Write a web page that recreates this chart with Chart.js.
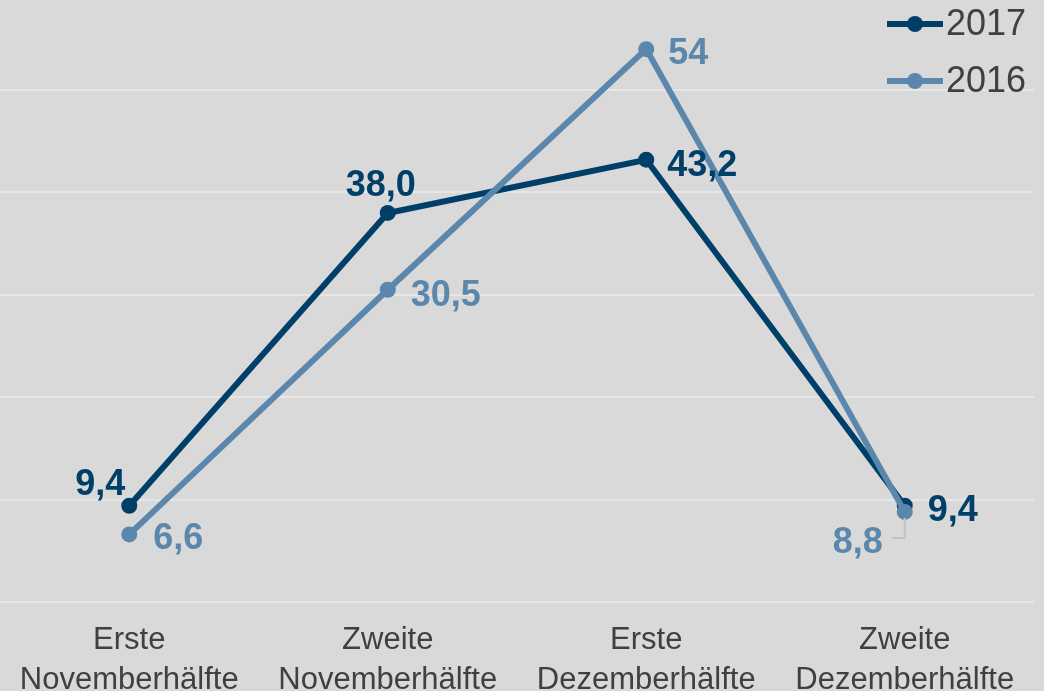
<!DOCTYPE html>
<html>
<head>
<meta charset="utf-8">
<script src="https://cdn.jsdelivr.net/npm/chart.js@4.4.1/dist/chart.umd.min.js"></script>
<style>
  html, body { margin: 0; padding: 0; background: #d9d9d9; }
  #wrap { width: 1044px; height: 691px; position: relative; }
</style>
</head>
<body>
<div id="wrap"><canvas id="grafico"></canvas></div>
<script>
// Kategorien und Werte
const kategorien = [
  ['Erste', 'Novemberhälfte'],
  ['Zweite', 'Novemberhälfte'],
  ['Erste', 'Dezemberhälfte'],
  ['Zweite', 'Dezemberhälfte']
];
const werte2017 = [9.4, 38.0, 43.2, 9.4];
const werte2016 = [6.6, 30.5, 54, 8.8];
const texte2017 = ['9,4', '38,0', '43,2', '9,4'];
const texte2016 = ['6,6', '30,5', '54', '8,8'];
const yTicks = [0, 10, 20, 30, 40, 50];

const dunkel = '#003f68';
const hell = '#5a87ab';
const schrift = '"Liberation Sans", Arial, sans-serif';

// Lage der Wertbeschriftung je Punkt: [dx, dy, Ausrichtung]
const lage2017 = [[-4, -21, 'right'], [-7, -27, 'center'], [21, 6, 'left'], [23, 5, 'left']];
const lage2016 = [[24, 5, 'left'], [23, 6, 'left'], [22, 5, 'left'], [-22, 31, 'right']];

// Wertbeschriftungen + Legende selbst zeichnen
const beschriftung = {
  id: 'beschriftung',
  afterDatasetsDraw(chart) {
    const c = chart.ctx;
    c.save();
    c.font = 'bold 36px ' + schrift;
    c.textBaseline = 'middle';
    const gruppen = [[1, texte2016, lage2016, hell], [0, texte2017, lage2017, dunkel]];
    gruppen.forEach(([idx, texte, lage, farbe]) => {
      const meta = chart.getDatasetMeta(idx);
      meta.data.forEach((pt, i) => {
        const [dx, dy, align] = lage[i];
        c.fillStyle = farbe;
        c.textAlign = align;
        c.fillText(texte[i], pt.x + dx, pt.y + dy);
      });
    });
    // Führungslinie für 8,8
    const p = chart.getDatasetMeta(1).data[3];
    c.strokeStyle = '#c2c2c2';
    c.lineWidth = 2;
    c.beginPath();
    c.moveTo(p.x, p.y + 6);
    c.lineTo(p.x, p.y + 26);
    c.lineTo(p.x - 13, p.y + 26);
    c.stroke();

    // Legende oben rechts
    c.font = '36px ' + schrift;
    c.textAlign = 'left';
    chart.data.datasets.forEach((ds, i) => {
      const y = 24 + i * 57;
      c.strokeStyle = ds.borderColor;
      c.lineWidth = 6;
      c.beginPath();
      c.moveTo(887, y);
      c.lineTo(943, y);
      c.stroke();
      c.fillStyle = ds.borderColor;
      c.beginPath();
      c.arc(915, y, 8, 0, Math.PI * 2);
      c.fill();
      c.fillStyle = '#404040';
      c.fillText(ds.label, 946, y + 1);
    });
    c.restore();
  }
};

new Chart(document.getElementById('grafico'), {
  type: 'line',
  data: {
    labels: kategorien,
    datasets: [
      {
        label: '2017',
        data: werte2017,
        borderColor: dunkel,
        backgroundColor: dunkel,
        borderWidth: 6,
        pointRadius: 8,
        pointBorderWidth: 0,
        tension: 0,
        clip: false,
        order: 2
      },
      {
        label: '2016',
        data: werte2016,
        borderColor: hell,
        backgroundColor: hell,
        borderWidth: 6,
        pointRadius: 8,
        pointBorderWidth: 0,
        tension: 0,
        clip: false,
        order: 1
      }
    ]
  },
  options: {
    responsive: true,
    maintainAspectRatio: false,
    animation: false,
    layout: { autoPadding: false, padding: { left: 0, right: 10, top: 0, bottom: 0 } },
    plugins: {
      legend: { display: false },
      tooltip: { enabled: false }
    },
    scales: {
      x: {
        offset: true,
        grid: { display: false, drawTicks: false },
        border: { display: false },
        afterFit(scale) { scale.height = 89; },
        ticks: {
          color: '#404040',
          padding: 18,
          maxRotation: 0,
          autoSkip: false,
          font: { family: schrift, size: 31, lineHeight: 1.3 }
        }
      },
      y: {
        min: 0,
        max: 58.8,
        afterBuildTicks(scale) { scale.ticks = yTicks.map(v => ({ value: v })); },
        afterFit(scale) { scale.width = 0; },
        grid: { color: '#e6e6e6', lineWidth: 2, drawTicks: false },
        border: { display: false },
        ticks: { display: false }
      }
    }
  },
  plugins: [beschriftung]
});
</script>
</body>
</html>
